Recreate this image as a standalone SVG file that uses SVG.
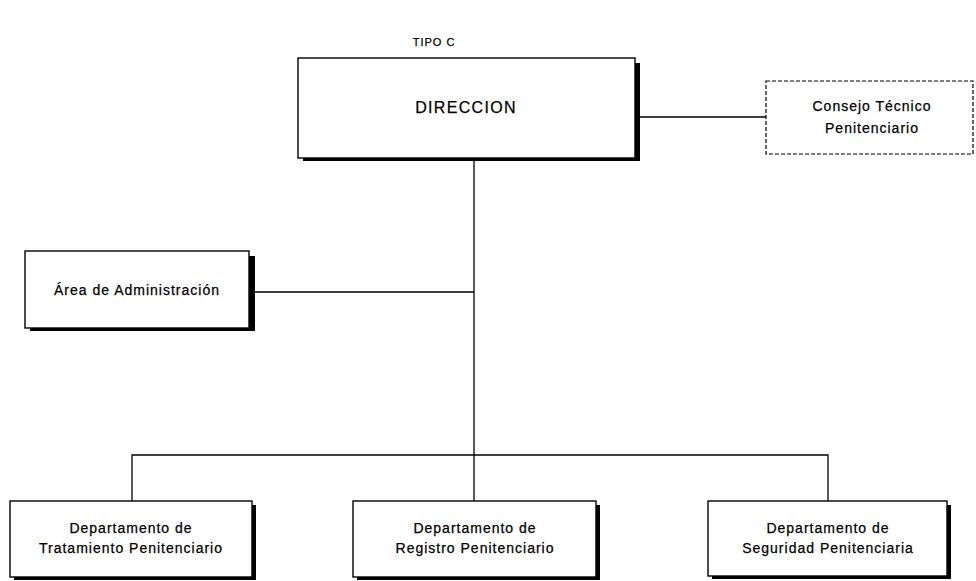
<svg xmlns="http://www.w3.org/2000/svg" width="976" height="581" viewBox="0 0 976 581">
<style>
.bg{fill:#fff}
.box{fill:#fff;stroke:#000;stroke-width:1.4}
.sh{fill:#000}
.dash{fill:#fff;stroke:#000;stroke-width:1.2;stroke-dasharray:4 2}
.ln{fill:none;stroke:#000;stroke-width:1.3}
text{font-family:"Liberation Sans",Arial,sans-serif;font-size:14px;letter-spacing:1px;fill:#000;text-anchor:middle;stroke:#000;stroke-width:0.25}
.big{font-size:16px;letter-spacing:1.3px}
.ttl{font-size:11px;letter-spacing:1px}
</style>
<rect class="bg" x="0" y="0" width="976" height="581"/>
<text class="ttl" x="434" y="46">TIPO  C</text>
<g id="connectors">
<line class="ln" x1="474" y1="160" x2="474" y2="501"/>
<line class="ln" x1="640" y1="117" x2="766" y2="117"/>
<line class="ln" x1="254" y1="292" x2="474" y2="292"/>
<polyline class="ln" points="132,501 132,455 828,455 828,501"/>
</g>
<g id="direccion">
<rect class="sh" x="303" y="63" width="337" height="98"/>
<rect class="box" x="298" y="58" width="337" height="100"/>
<text class="big" x="466" y="113">DIRECCION</text>
</g>
<g id="consejo">
<rect class="dash" x="766" y="81" width="207" height="73"/>
<text x="872" y="111">Consejo Técnico</text>
<text x="872" y="133">Penitenciario</text>
</g>
<g id="area">
<rect class="sh" x="30" y="256" width="225" height="75"/>
<rect class="box" x="25" y="251" width="224" height="77"/>
<text x="137" y="295">Área de Administración</text>
</g>
<g id="tratamiento">
<rect class="sh" x="14" y="505" width="242" height="75"/>
<rect class="box" x="10" y="501" width="242" height="76"/>
<text x="131" y="533">Departamento de</text>
<text x="131" y="553">Tratamiento Penitenciario</text>
</g>
<g id="registro">
<rect class="sh" x="357" y="505" width="243" height="75"/>
<rect class="box" x="353" y="501" width="243" height="76"/>
<text x="475" y="533">Departamento de</text>
<text x="475" y="553">Registro Penitenciario</text>
</g>
<g id="seguridad">
<rect class="sh" x="712" y="505" width="239" height="74"/>
<rect class="box" x="708" y="501" width="239" height="75"/>
<text x="828" y="533">Departamento de</text>
<text x="828" y="553">Seguridad Penitenciaria</text>
</g>
</svg>
